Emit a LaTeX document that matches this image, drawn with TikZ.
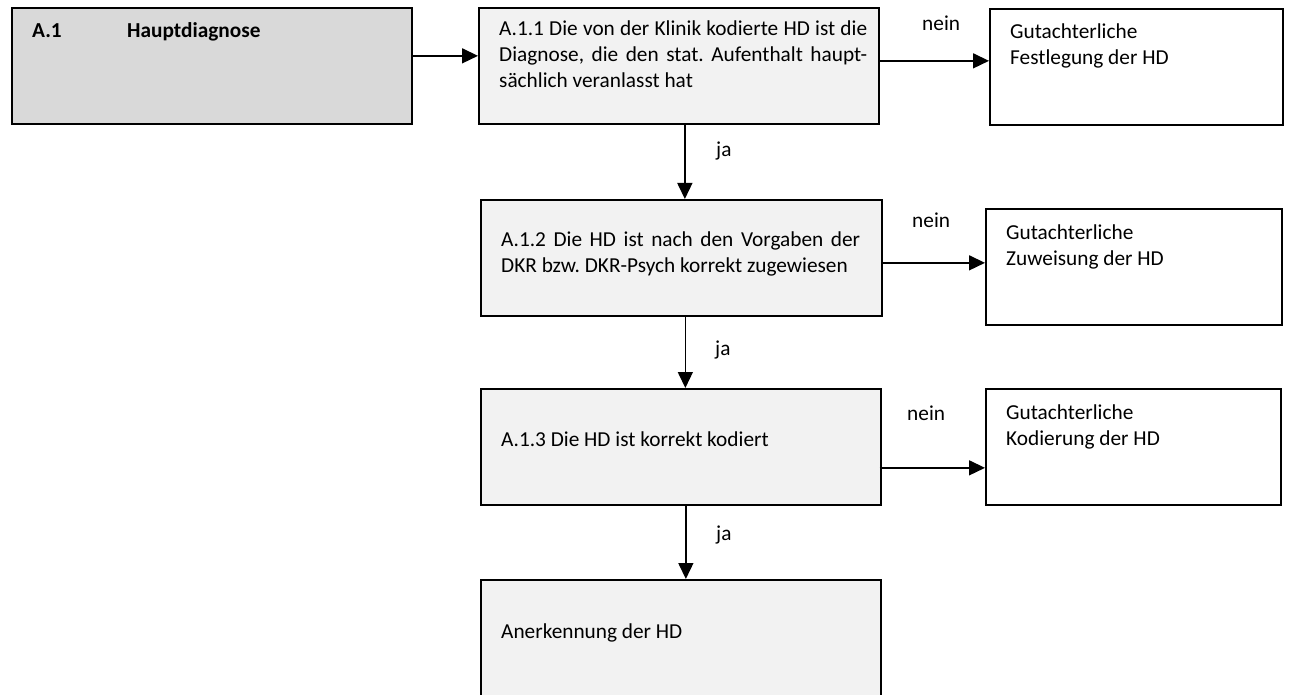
\documentclass[tikz,border=0pt]{standalone}
\usepackage{fontspec}
\setmainfont{Carlito}
\usetikzlibrary{arrows.meta,calc}
\definecolor{headgray}{HTML}{D9D9D9}
\definecolor{stepgray}{HTML}{F2F2F2}
\frenchspacing
\begin{document}
\begin{tikzpicture}[x=1pt,y=-1pt,
  box/.style={draw=black, line width=1.7pt, rectangle, inner sep=0pt, anchor=north west},
  headbox/.style={box, fill=headgray},
  stepbox/.style={box, fill=stepgray},
  resultbox/.style={box, fill=white},
  txt/.style={font=\fontsize{21.3}{26}\selectfont, inner sep=0pt, anchor=base west, align=flush left, text width=340pt},
  jtxt/.style={txt, align=justify},
  lbl/.style={font=\fontsize{21.3}{26}\selectfont, inner sep=0pt, anchor=base west},
  arr/.style={line width=1.5pt, -{Triangle[length=16pt,width=15pt]}},
]
\useasboundingbox (0,0) rectangle (1290,695);

% boxes
\node[headbox, minimum width=400pt, minimum height=116pt] (a1) at (11,7) {};
\node[stepbox, minimum width=400pt, minimum height=116pt] (a11) at (478,7) {};
\node[resultbox, minimum width=293pt, minimum height=116pt] (fest) at (989,8) {};
\node[stepbox, minimum width=401pt, minimum height=116pt] (a12) at (480,199) {};
\node[resultbox, minimum width=296pt, minimum height=116pt] (zuw) at (985,208) {};
\node[stepbox, minimum width=400pt, minimum height=116pt] (a13) at (480,388) {};
\node[resultbox, minimum width=295pt, minimum height=116pt] (kod) at (985,388) {};
\node[stepbox, minimum width=400pt, minimum height=140pt] (anerk) at (480,579) {};

% box texts
\node[txt] (t1) at (32,38) {\bfseries\makebox[95pt][l]{A.1}Hauptdiagnose};
\node[jtxt, text width=368pt] (t11) at (499,36)
  {A.1.1 Die von der Klinik kodierte HD ist die\linebreak
   Diagnose, die den stat. Aufenthalt haupt-\linebreak
   sächlich veranlasst hat};
\node[txt, text width=260pt] (tfest) at (1010,39) {Gutachterliche\\Festlegung der HD};
\node[jtxt, text width=359pt] (t12) at (501,246)
  {A.1.2 Die HD ist nach den Vorgaben der\linebreak
   DKR bzw. DKR-Psych korrekt zugewiesen};
\node[txt, text width=260pt] (tzuw) at (1006,240) {Gutachterliche\\Zuweisung der HD};
\node[txt] (t13) at (501,446) {A.1.3 Die HD ist korrekt kodiert};
\node[txt, text width=260pt] (tkod) at (1006,419) {Gutachterliche\\Kodierung der HD};
\node[txt] (tan) at (501,638) {Anerkennung der HD};

% connectors
\draw[arr] ([yshift=10pt]a1.east) -- ([yshift=10pt]a11.west);
\draw[arr] ([yshift=5pt]a11.east) -- ([yshift=5pt]a11.east -| fest.west);
\draw[arr] ([xshift=6pt]a11.south) -- ([xshift=6pt]a11.south |- a12.north);
\draw[arr] ([yshift=-5pt]a12.east) -- ([yshift=-5pt]a12.east -| zuw.west);
\draw[arr] ([xshift=4pt]a12.south) -- ([xshift=4pt]a12.south |- a13.north);
\draw[arr] ([xshift=-2pt,yshift=-21pt]a13.east) -- ([yshift=-21pt]a13.east -| kod.west);
\draw[arr] ([xshift=5pt]a13.south) -- ([xshift=5pt]a13.south |- anerk.north);

% connector labels
\node[lbl] (n1) at (922,31) {nein};
\node[lbl] (n2) at (912,227) {nein};
\node[lbl] (n3) at (907,420) {nein};
\node[lbl] (j1) at (716,157) {ja};
\node[lbl] (j2) at (715,355) {ja};
\node[lbl] (j3) at (716,540) {ja};
\end{tikzpicture}
\end{document}
